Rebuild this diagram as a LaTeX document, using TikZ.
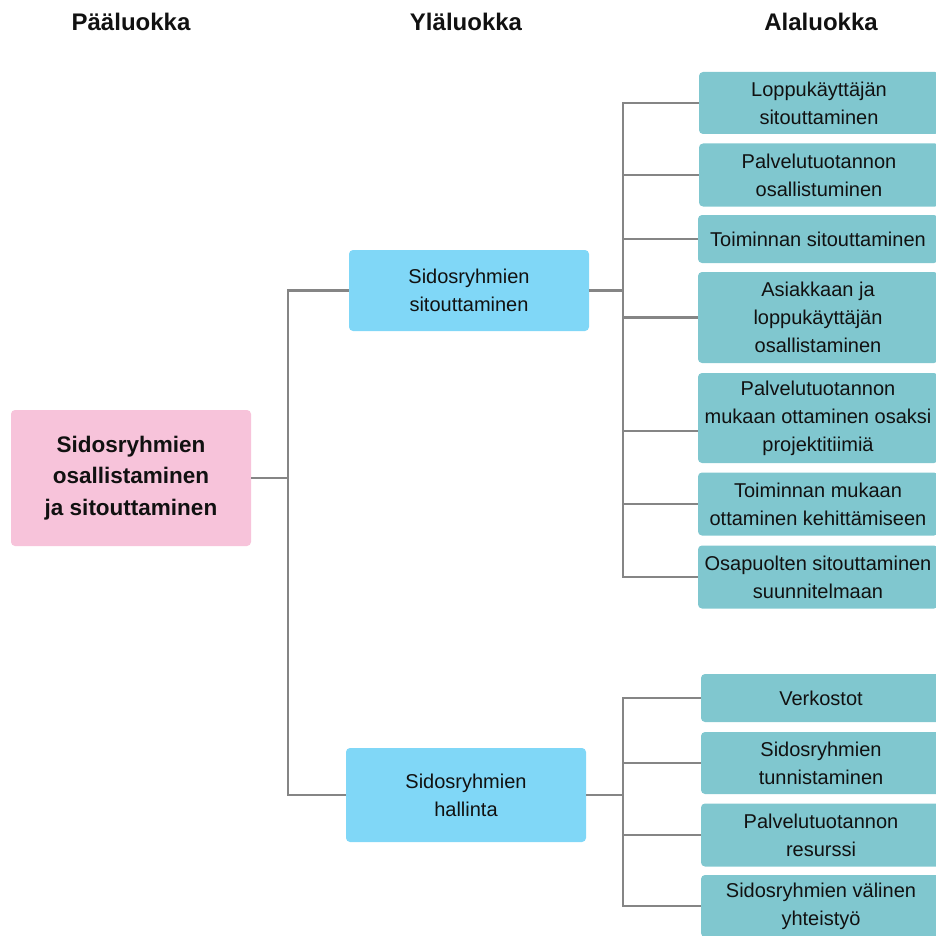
\documentclass[tikz,border=0pt]{standalone}
\usepackage{fontspec}
\setmainfont{Liberation Sans}
\definecolor{rootpink}{HTML}{F7C3DA}
\definecolor{midblue}{HTML}{80D7F7}
\definecolor{leafteal}{HTML}{80C7CF}
\definecolor{linkgray}{HTML}{858585}
\definecolor{ink}{HTML}{111111}
\begin{document}
\begin{tikzpicture}[x=1pt,y=-1pt,
  every node/.style={inner sep=0pt, outer sep=0pt, align=center, text=ink},
  boxbase/.style={rounded corners=4pt, font=\fontsize{20}{28}\selectfont},
  rootbox/.style={boxbase, fill=rootpink, minimum width=240pt, minimum height=136pt,
    font=\bfseries\fontsize{22.5}{31.5}\selectfont},
  midbox/.style={boxbase, fill=midblue, minimum width=240pt},
  leafbox/.style={boxbase, fill=leafteal, minimum width=240pt, anchor=west},
  header/.style={font=\bfseries\fontsize{24}{28}\selectfont, anchor=base},
  link/.style={draw=linkgray, line width=2.4pt}
]
\useasboundingbox (0,0) rectangle (936,936);
\clip (0,0) rectangle (936,936);

% column headings
\node[header] (h1) at (131,31) {Pääluokka};
\node[header] (h2) at (466,31) {Yläluokka};
\node[header] (h3) at (821,31) {Alaluokka};

% main category
\node[rootbox] (root) at (131,478) {Sidosryhmien\\osallistaminen\\ja sitouttaminen};

% upper categories
\node[midbox, minimum height=81pt] (m1) at (469,290.5) {Sidosryhmien\\sitouttaminen};
\node[midbox, minimum height=94pt] (m2) at (466,795) {Sidosryhmien\\hallinta};

% subcategories of the first upper category
\node[leafbox, minimum height=62pt] (a1) at (699,103) {Loppukäyttäjän\\sitouttaminen};
\node[leafbox, minimum height=63pt] (a2) at (699,175) {Palvelutuotannon\\osallistuminen};
\node[leafbox, minimum height=48pt] (a3) at (698,239) {Toiminnan sitouttaminen};
\node[leafbox, minimum height=91pt] (a4) at (698,317.5) {Asiakkaan ja\\loppukäyttäjän\\osallistaminen};
\node[leafbox, minimum height=90pt] (a5) at (698,418) {Palvelutuotannon\\mukaan ottaminen osaksi\\projektitiimiä};
\node[leafbox, minimum height=63pt] (a6) at (698,504) {Toiminnan mukaan\\ottaminen kehittämiseen};
\node[leafbox, minimum height=63pt] (a7) at (698,577) {Osapuolten sitouttaminen\\suunnitelmaan};

% subcategories of the second upper category
\node[leafbox, minimum height=48pt] (b1) at (701,698) {Verkostot};
\node[leafbox, minimum height=62pt] (b2) at (701,763) {Sidosryhmien\\tunnistaminen};
\node[leafbox, minimum height=63pt] (b3) at (701,835) {Palvelutuotannon\\resurssi};
\node[leafbox, minimum height=62pt] (b4) at (701,906) {Sidosryhmien välinen\\yhteistyö};

% branching points
\coordinate (jR) at (288,0);
\coordinate (jA) at (623,0);
\coordinate (jB) at (623,0);

% main category to upper categories
\draw[link] (root.east) -- (root.east -| jR);
\draw[link, line cap=rect] (m1.west -| jR) -- (m2.west -| jR);
\draw[link] (m1.west -| jR) -- (m1.west);
\draw[link] (m2.west -| jR) -- (m2.west);

% first upper category to its subcategories
\draw[link] (m1.east) -- (m1.east -| jA);
\draw[link, line cap=rect] (a1.west -| jA) -- (a7.west -| jA);
\foreach \n in {a1,a2,a3,a4,a6,a7}
  \draw[link] (\n.west -| jA) -- (\n.west);
\draw[link] ([yshift=-13pt]a5.west -| jA) -- ([yshift=-13pt]a5.west);

% second upper category to its subcategories
\draw[link] (m2.east) -- (m2.east -| jB);
\draw[link, line cap=rect] (b1.west -| jB) -- (b4.west -| jB);
\foreach \n in {b1,b2,b3,b4}
  \draw[link] (\n.west -| jB) -- (\n.west);
\end{tikzpicture}
\end{document}
